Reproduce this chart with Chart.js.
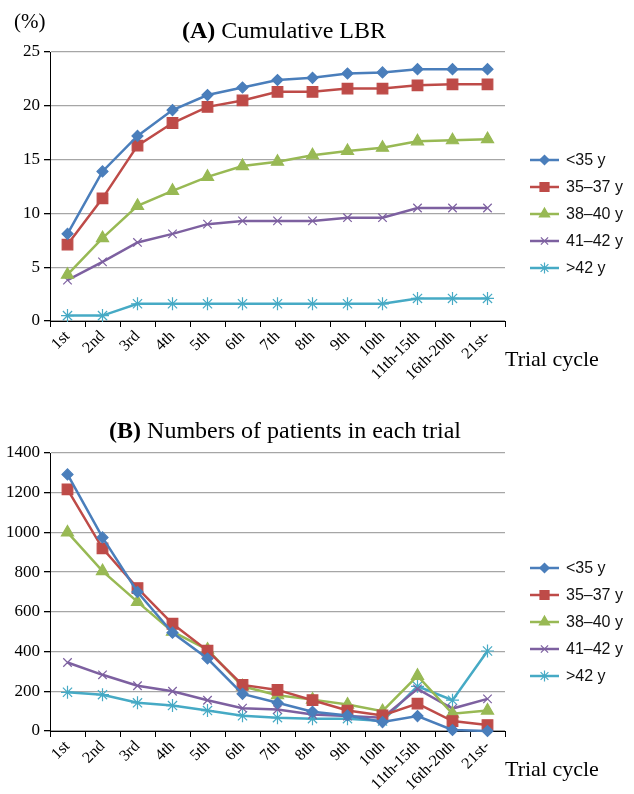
<!DOCTYPE html>
<html><head><meta charset="utf-8">
<script src="https://cdn.jsdelivr.net/npm/chart.js@4.4.1/dist/chart.umd.min.js"></script>
<style>body{margin:0;background:#fff} canvas{display:block}</style>
</head><body>
<canvas id="a" width="634" height="397"></canvas>
<canvas id="b" width="634" height="397"></canvas>
<script>
// categories and series
const cycles = ['1st','2nd','3rd','4th','5th','6th','7th','8th','9th','10th','11th-15th','16th-20th','21st-'];
const groups = ['<35 y','35\u201337 y','38\u201340 y','41\u201342 y','>42 y'];

const lbrU35  = [8.1, 13.9, 17.2, 19.6, 21.0, 21.7, 22.4, 22.6, 23.0, 23.1, 23.4, 23.4, 23.4];
const lbr3537 = [7.1, 11.4, 16.3, 18.4, 19.9, 20.5, 21.3, 21.3, 21.6, 21.6, 21.9, 22.0, 22.0];
const lbr3840 = [4.3, 7.7, 10.7, 12.1, 13.4, 14.4, 14.8, 15.4, 15.8, 16.1, 16.7, 16.8, 16.9];
const lbr4142 = [3.8, 5.5, 7.3, 8.1, 9.0, 9.3, 9.3, 9.3, 9.6, 9.6, 10.5, 10.5, 10.5];
const lbrO42  = [0.5, 0.5, 1.6, 1.6, 1.6, 1.6, 1.6, 1.6, 1.6, 1.6, 2.1, 2.1, 2.1];

const patU35  = [1292, 975, 700, 495, 365, 187, 142, 97, 78, 45, 75, 5, 0];
const pat3537 = [1217, 920, 720, 540, 405, 232, 207, 155, 103, 78, 138, 50, 30];
const pat3840 = [1000, 805, 650, 500, 410, 225, 180, 158, 133, 100, 278, 87, 103];
const pat4142 = [345, 283, 228, 200, 155, 115, 108, 83, 75, 67, 212, 113, 162];
const patO42  = [195, 183, 142, 128, 103, 77, 67, 62, 62, 50, 225, 155, 403];

const colors = ['#4a7ebb', '#be4b48', '#98b954', '#7d60a0', '#46aac5'];
const markers = [
  { style: 'rectRot', r: 5.5 },
  { style: 'rect', r: 7.5 },
  { style: 'triangle', r: 7 },
  { style: 'crossRot', r: 6 },
  { style: 'star', r: 6.5 }
];

const serif = '"Liberation Serif", "DejaVu Serif", serif';
const sans = '"Liberation Sans", Arial, sans-serif';

const extras = {
  id: 'extras',
  afterDraw(chart, args, o) {
    const ctx = chart.ctx;
    ctx.save();
    // title, bold label + plain text
    ctx.fillStyle = '#000';
    ctx.textBaseline = 'alphabetic';
    ctx.font = 'bold 24px ' + serif;
    const w1 = ctx.measureText(o.title[0]).width;
    ctx.font = '24px ' + serif;
    const w2 = ctx.measureText(o.title[1]).width;
    let x = o.titleX - (w1 + w2) / 2;
    ctx.font = 'bold 24px ' + serif;
    ctx.fillText(o.title[0], x, o.titleY);
    ctx.font = '24px ' + serif;
    ctx.fillText(o.title[1], x + w1, o.titleY);
    if (o.unit) {
      ctx.font = '21px ' + serif;
      ctx.fillText(o.unit, 14, 28);
    }
    ctx.font = '22px ' + serif;
    ctx.textBaseline = 'middle';
    ctx.fillText('Trial cycle', 505, o.axisY);
    // legend: line with marker
    chart.data.datasets.forEach((ds, i) => {
      const y = o.legendTop + i * 27;
      ctx.strokeStyle = ds.borderColor;
      ctx.fillStyle = ds.borderColor;
      ctx.lineWidth = 2.5;
      ctx.beginPath();
      ctx.moveTo(530, y);
      ctx.lineTo(559, y);
      ctx.stroke();
      ctx.lineWidth = 1.2;
      Chart.helpers.drawPoint(ctx, { pointStyle: ds.pointStyle, radius: ds.pointRadius * 0.85, borderWidth: 1.2, rotation: 0 }, 544.5, y);
      ctx.fillStyle = '#111';
      ctx.font = '16px ' + sans;
      ctx.fillText(groups[i], 566, y + 1);
    });
    ctx.restore();
  }
};

function makeChart(id, series, yMax, yStep, o) {
  const datasets = series.map((d, i) => ({
    label: groups[i],
    data: d,
    borderColor: colors[i],
    backgroundColor: colors[i],
    pointBackgroundColor: colors[i],
    pointBorderColor: colors[i],
    pointStyle: markers[i].style,
    pointRadius: markers[i].r,
    pointBorderWidth: 1.2,
    borderWidth: 2.5,
    tension: 0,
    clip: false
  }));
  return new Chart(document.getElementById(id), {
    type: 'line',
    data: { labels: cycles, datasets },
    options: {
      responsive: false,
      animation: false,
      layout: { padding: { left: 0, top: o.top, right: 634 - 505, bottom: 0 } },
      plugins: { legend: { display: false }, tooltip: { enabled: false }, extras: o },
      scales: {
        x: {
          offset: true,
          grid: { display: true, offset: true, drawOnChartArea: false, drawTicks: true, tickLength: 6, color: '#000', lineWidth: 1 },
          border: { color: '#000', width: 1 },
          ticks: { color: '#000', font: { family: serif, size: 16 }, maxRotation: 45, minRotation: 45, autoSkip: false, padding: 0 },
          afterFit: s => { s.height = o.xHeight; }
        },
        y: {
          min: 0, max: yMax,
          grid: { color: '#a6a6a6', lineWidth: 1.3, tickLength: 6, tickColor: '#000' },
          border: { color: '#000', width: 1 },
          ticks: { stepSize: yStep, color: '#000', font: { family: serif, size: 17 }, padding: 4, callback: v => String(v) },
          afterFit: s => { s.width = 50; }
        }
      }
    },
    plugins: [extras]
  });
}

makeChart('a', [lbrU35, lbr3537, lbr3840, lbr4142, lbrO42], 25, 5,
  { title: ['(A)', ' Cumulative LBR'], titleX: 284, titleY: 38, unit: '(%)', axisY: 360, legendTop: 160, top: 52, xHeight: 397 - 321 });
makeChart('b', [patU35, pat3537, pat3840, pat4142, patO42], 1400, 200,
  { title: ['(B)', ' Numbers of patients in each trial'], titleX: 285, titleY: 41, unit: null, axisY: 373, legendTop: 171, top: 56, xHeight: 397 - 334 });
</script>
</body></html>
